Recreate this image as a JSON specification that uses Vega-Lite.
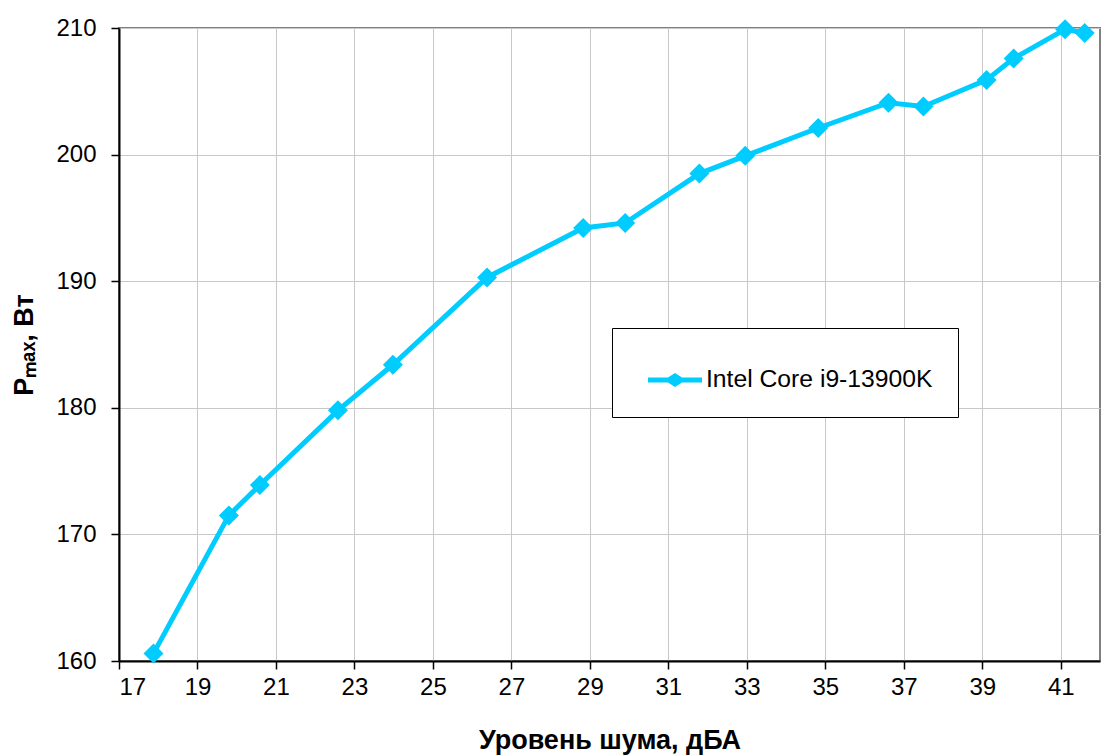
{
  "$schema": "https://vega.github.io/schema/vega-lite/v6.json",
  "width": 981,
  "height": 633,
  "autosize": {"type": "none"},
  "padding": {"left": 119, "top": 28, "right": 17, "bottom": 95},
  "background": "white",
  "config": {
    "font": "Liberation Sans",
    "view": {"stroke": "#808080", "strokeWidth": 2},
    "axis": {
      "labelFont": "Liberation Sans",
      "labelFontSize": 24,
      "labelColor": "black",
      "titleFont": "Liberation Sans",
      "titleFontSize": 27,
      "titleFontWeight": "bold",
      "titleColor": "black",
      "domainColor": "black",
      "domainWidth": 2,
      "tickColor": "black",
      "tickWidth": 1.5,
      "tickSize": 8,
      "gridColor": "#c8c8c8",
      "gridWidth": 1
    }
  },
  "data": {
    "values": [
      {"noise": 17.88, "power": 160.6, "cpu": "Intel Core i9-13900K"},
      {"noise": 19.80, "power": 171.5, "cpu": "Intel Core i9-13900K"},
      {"noise": 20.59, "power": 173.9, "cpu": "Intel Core i9-13900K"},
      {"noise": 22.58, "power": 179.8, "cpu": "Intel Core i9-13900K"},
      {"noise": 23.98, "power": 183.4, "cpu": "Intel Core i9-13900K"},
      {"noise": 26.38, "power": 190.3, "cpu": "Intel Core i9-13900K"},
      {"noise": 28.83, "power": 194.2, "cpu": "Intel Core i9-13900K"},
      {"noise": 29.90, "power": 194.6, "cpu": "Intel Core i9-13900K"},
      {"noise": 31.79, "power": 198.5, "cpu": "Intel Core i9-13900K"},
      {"noise": 32.96, "power": 199.9, "cpu": "Intel Core i9-13900K"},
      {"noise": 34.82, "power": 202.1, "cpu": "Intel Core i9-13900K"},
      {"noise": 36.61, "power": 204.1, "cpu": "Intel Core i9-13900K"},
      {"noise": 37.50, "power": 203.8, "cpu": "Intel Core i9-13900K"},
      {"noise": 39.11, "power": 205.9, "cpu": "Intel Core i9-13900K"},
      {"noise": 39.80, "power": 207.6, "cpu": "Intel Core i9-13900K"},
      {"noise": 41.11, "power": 209.9, "cpu": "Intel Core i9-13900K"},
      {"noise": 41.61, "power": 209.6, "cpu": "Intel Core i9-13900K"}
    ]
  },
  "encoding": {
    "x": {
      "field": "noise",
      "type": "quantitative",
      "scale": {"domain": [17, 42], "nice": false, "zero": false},
      "axis": {"values": [17, 19, 21, 23, 25, 27, 29, 31, 33, 35, 37, 39, 41], "title": "Уровень шума, дБА", "labelPadding": 6, "titlePadding": 28}
    },
    "y": {
      "field": "power",
      "type": "quantitative",
      "scale": {"domain": [160, 210], "nice": false, "zero": false},
      "axis": {"values": [160, 170, 180, 190, 200, 210], "title": "Pₘₐₓ, Вт", "labelPadding": 15, "titlePadding": 17}
    }
  },
  "layer": [
    {
      "mark": {"type": "line", "strokeWidth": 5, "clip": false},
      "encoding": {
        "color": {
          "field": "cpu",
          "type": "nominal",
          "scale": {"range": ["#00ccff"]},
          "legend": {
            "title": null,
            "orient": "none",
            "legendX": 493,
            "legendY": 300,
            "padding": 25,
            "strokeColor": "black",
            "fillColor": "white",
            "labelFont": "Liberation Sans",
            "labelFontSize": 24.7,
            "labelColor": "black",
            "labelLimit": 400,
            "labelOffset": 4,
            "symbolOffset": 11,
            "symbolType": "M-1,-0.09H-0.26L0,-0.26L0.26,-0.09H1V0.09H0.26L0,0.26L-0.26,0.09H-1Z",
            "symbolSize": 2916,
            "symbolStrokeWidth": 0,
            "symbolFillColor": "#00ccff",
            "encode": {
              "symbols": {"update": {"fill": {"value": "#00ccff"}, "strokeWidth": {"value": 0}}}
            }
          }
        }
      }
    },
    {
      "mark": {"type": "point", "shape": "diamond", "filled": true, "size": 400, "opacity": 1, "color": "#00ccff", "clip": false}
    }
  ]
}
